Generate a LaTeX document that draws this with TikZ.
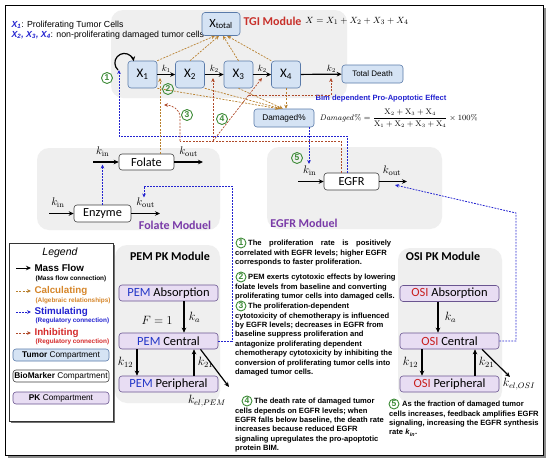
\documentclass[tikz,border=0pt]{standalone}
\usepackage{amsmath}
\usepackage[no-math]{fontspec}
\setmainfont{Liberation Sans}
\newfontfamily\calibri{Carlito}
\usetikzlibrary{arrows.meta,positioning,calc}

\definecolor{tumfill}{HTML}{D5E3F4}
\definecolor{tumdraw}{HTML}{5A7BAA}
\definecolor{pkfill}{HTML}{E8DDF3}
\definecolor{pkdraw}{HTML}{6A5590}
\definecolor{modgray}{HTML}{EFEFEF}
\definecolor{calccol}{HTML}{B8802E}
\definecolor{inhibcol}{HTML}{B04A2A}
\definecolor{stimcol}{HTML}{2323D0}
\definecolor{numgreen}{HTML}{3D8B37}
\definecolor{titlered}{HTML}{C8302A}
\definecolor{titlepurple}{HTML}{7A3BA8}
\definecolor{pemblue}{HTML}{2437C8}
\definecolor{osired}{HTML}{C81E1E}
\definecolor{calctext}{HTML}{D6862A}
\definecolor{inhibtext}{HTML}{D52B2B}

\newcommand{\fsz}[1]{\fontsize{#1}{#1}\selectfont}

\tikzset{
  module/.style={fill=modgray, rounded corners=12pt},
  tumor/.style={draw=tumdraw, fill=tumfill, rounded corners=3pt, line width=0.6pt, inner sep=0pt},
  bio/.style={draw=black!75, fill=white, rounded corners=3pt, line width=0.6pt, inner sep=0pt},
  pk/.style={draw=pkdraw, fill=pkfill, rounded corners=3pt, line width=0.6pt, inner sep=0pt,
    minimum width=99pt, minimum height=16pt, font=\calibri\fsz{12.5}},
  flowline/.style={line width=1.2pt, -{Stealth[length=5pt,width=4.5pt]}},
  calcline/.style={calccol, line width=0.7pt, dash pattern=on 2pt off 1.3pt, -{Stealth[length=4pt,width=3.6pt]}},
  inhibline/.style={inhibcol, line width=0.7pt, dash pattern=on 2pt off 1.3pt, -{Stealth[length=4pt,width=3.6pt]}},
  stimline/.style={stimcol, line width=0.8pt, dash pattern=on 1.8pt off 1.2pt, -{Stealth[length=4pt,width=3.6pt]}},
  num/.style={circle, draw=numgreen, line width=0.9pt, text=numgreen, font=\bfseries\fsz{8.5},
    inner sep=0pt, minimum size=11pt},
  ttl/.style={font=\calibri\bfseries\fsz{12}},
  kl/.style={font=\fsz{9}, inner sep=1pt},
  note/.style={anchor=north west, align=left, inner sep=0pt, font=\bfseries\fontsize{7.6}{9.4}\selectfont},
}

\begin{document}
\begin{tikzpicture}[x=1pt, y=1pt]
  \useasboundingbox (0,0) rectangle (550,-461);
  % ---------------------------------------------------------------- frame
  \fill[black!45] (8,-8) rectangle (545.5,-457.5);
  \draw[fill=white, line width=0.7pt] (5,-5) rectangle (543,-455);
  % module backgrounds
  \path[module] (111,-10) rectangle (347,-98);
  \path[module] (37,-148) rectangle (220,-230);
  \path[module] (267,-147) rectangle (442,-229);
  \path[module] (115,-245) rectangle (220,-403);
  \path[module] (398,-248) rectangle (502,-403);

  % ---------------------------------------------------------------- header
  \node[anchor=west, font=\fsz{8.8}] (hdr1) at (8,-25)
    {\textcolor{stimcol}{\textbf{\textit{X\textsubscript{1}}}}: Proliferating Tumor Cells};
  \node[anchor=west, font=\fsz{8.8}] (hdr2) at (8,-35)
    {\textcolor{stimcol}{\textbf{\textit{X\textsubscript{2}, X\textsubscript{3}, X\textsubscript{4}}}}: non-proliferating damaged tumor cells};

  % ---------------------------------------------------------------- TGI module
  \node[tumor, minimum width=38pt, minimum height=23pt, font=\calibri\fsz{12.5}] (Xtot) at (221,-24) {X\textsubscript{total}};
  \node[ttl, text=titlered] (tgi) at (272.5,-21) {TGI Module};
  \node[font=\fsz{9.5}] (xeq) at (357,-21) {$X = X_1 + X_2 + X_3 + X_4$};
  \foreach \i/\x in {1/142.5, 2/190, 3/238.5, 4/286} {
    \node[tumor, minimum width=29pt, minimum height=27pt, font=\calibri\fsz{13}] (X\i) at (\x,-74.5) {X\textsubscript{\i}};
  }
  \node[tumor, minimum width=61pt, minimum height=18pt, font=\fsz{8}] (death) at (372.5,-74) {Total Death};
  \node[tumor, minimum width=60pt, minimum height=18pt, font=\fsz{8.3}] (dam) at (284,-118) {Damaged\%};
  \node[font=\bfseries\fsz{7.6}, text=stimcol] (bim) at (381,-99) {Bim dependent Pro-Apoptotic Effect};
  \node[anchor=west, font=\fsz{7.8}] (dameq) at (316,-118)
    {$\mathit{Damaged}\% = \dfrac{\mathrm{X}_2 + \mathrm{X}_3 + \mathrm{X}_4}{\mathrm{X}_1 + \mathrm{X}_2 + \mathrm{X}_3 + \mathrm{X}_4}\times 100\%$};

  \draw[flowline] (X1) -- node[above, kl] {$k_1$} (X2);
  \draw[flowline] (X2) -- node[above, kl] {$k_2$} (X3);
  \draw[flowline] (X3) -- node[above, kl] {$k_2$} (X4);
  \draw[flowline] (X4) -- node[pos=0.75, above, kl] {$k_2$} (death);
  % self renewal of X1
  \coordinate (lp) at (118,-70);
  \draw[flowline] (lp) arc[start angle=228, end angle=10, radius=9.5];

  % X compartments summed into Xtotal and Damaged%
  \draw[calcline] (X1.north east) -- ([xshift=-6pt]Xtot.south);
  \draw[calcline] (X2.north) -- ([xshift=-2pt]Xtot.south);
  \draw[calcline] (X3.north) -- ([xshift=2pt]Xtot.south);
  \draw[calcline] (X4.north west) -- ([xshift=6pt]Xtot.south);
  \draw[calcline] (X1.south east) -- ([xshift=-5pt]dam.north);
  \draw[calcline] (X2.south east) -- ([xshift=-3pt]dam.north);
  \draw[calcline] (X3.south) -- ([xshift=-1pt]dam.north);
  \draw[calcline] (X4.south) -- (X4.south |- dam.north);

  % ---------------------------------------------------------------- folate module
  \node[bio, minimum width=55pt, minimum height=16pt, font=\calibri\fsz{12.3}] (fol) at (146.5,-162) {Folate};
  \node[bio, minimum width=57pt, minimum height=17pt, font=\calibri\fsz{12.3}] (enz) at (102.5,-213.5) {Enzyme};
  \coordinate (folin) at (93,-162);
  \coordinate (folout) at (203,-162);
  \coordinate (enzin) at (49,-213.5);
  \coordinate (enzout) at (160,-213.5);
  \draw[flowline] (folin) -- node[pos=0.38, above=2pt, font=\fsz{11}] {$k_{\mathrm{in}}$} (fol);
  \draw[flowline] (fol) -- node[pos=0.5, above=2pt, font=\fsz{11}] {$k_{\mathrm{out}}$} (folout);
  \draw[flowline] (enzin) -- node[pos=0.36, above=2pt, font=\fsz{11}] {$k_{\mathrm{in}}$} (enz);
  \draw[flowline] (enz) -- node[pos=0.5, above=2pt, font=\fsz{11}] {$k_{\mathrm{out}}$} (enzout);
  \node[ttl, text=titlepurple] (folttl) at (175,-225) {Folate Moduel};

  % ---------------------------------------------------------------- EGFR module
  \node[bio, minimum width=55pt, minimum height=17pt, font=\calibri\fsz{12.3}] (egfr) at (351.5,-181.5) {EGFR};
  \coordinate (egin) at (298,-181.5);
  \coordinate (egout) at (407,-181.5);
  \draw[flowline] (egin) -- node[pos=0.46, above=2pt, font=\fsz{11}] {$k_{\mathrm{in}}$} (egfr);
  \draw[flowline] (egfr) -- node[pos=0.46, above=2pt, font=\fsz{11}] {$k_{\mathrm{out}}$} (egout);
  \node[ttl, text=titlepurple] (egttl) at (304,-223) {EGFR Moduel};

  % ---------------------------------------------------------------- PEM PK
  \node[ttl] (pemttl) at (170,-256) {PEM PK Module};
  \node[pk] (pema) at (168.5,-293) {\textcolor{pemblue}{PEM} Absorption};
  \node[pk] (pemc) at (168.5,-341) {\textcolor{pemblue}{PEM} Central};
  \node[pk] (pemp) at (168.5,-384) {\textcolor{pemblue}{PEM} Peripheral};
  \node[font=\fsz{12}] (pemF) at (157,-320) {$F = 1$};
  \draw[flowline] ([xshift=15.5pt]pema.south) -- node[right=1pt, font=\fsz{12}] {$k_a$} ([xshift=15.5pt]pemc.north);
  \draw[flowline] ([xshift=-31.5pt]pemc.south) -- node[left=0pt, font=\fsz{12}] {$k_{12}$} ([xshift=-31.5pt]pemp.north);
  \draw[flowline] ([xshift=25.5pt]pemp.north) -- node[right=0pt, font=\fsz{12}] {$k_{21}$} ([xshift=25.5pt]pemc.south);
  \coordinate (pemel) at (229,-387);
  \draw[flowline] ([xshift=32pt]pemc.south) -- (pemel);
  \node[font=\fsz{12}] (pemkel) at (207,-401) {$k_{el,PEM}$};

  % ---------------------------------------------------------------- OSI PK
  \node[ttl] (osittl) at (443,-256) {OSI PK Module};
  \node[pk] (osia) at (449.5,-293.5) {\textcolor{osired}{OSI} Absorption};
  \node[pk] (osic) at (449.5,-341) {\textcolor{osired}{OSI} Central};
  \node[pk] (osip) at (449.5,-384) {\textcolor{osired}{OSI} Peripheral};
  \draw[flowline] ([xshift=-11.5pt]osia.south) -- node[right=3pt, font=\fsz{12}] {$k_a$} ([xshift=-11.5pt]osic.north);
  \draw[flowline] ([xshift=-27.5pt]osic.south) -- node[left=0pt, font=\fsz{12}] {$k_{12}$} ([xshift=-27.5pt]osip.north);
  \draw[flowline] ([xshift=25.5pt]osip.north) -- node[right=0pt, font=\fsz{12}] {$k_{21}$} ([xshift=25.5pt]osic.south);
  \coordinate (osiel) at (510,-377);
  \draw[flowline] ([xshift=32.5pt]osic.south) -- (osiel);
  \node[font=\fsz{12}] (osikel) at (519,-384) {$k_{el,OSI}$};

  % ---------------------------------------------------------------- regulation
  \coordinate (t12) at (160,-78);
  \coordinate (t23) at (213,-78);
  \coordinate (t34) at (262,-78);
  \coordinate (t4d) at (331,-78);
  \coordinate (b1) at (119,-136);
  \coordinate (r1) at (180,-141);
  \coordinate (r4) at (213,-141);
  \coordinate (r3) at (164,-105);
  \coordinate (r5) at ($(r4)!0.73!(t34)$);
  % (1) EGFR drives proliferation
  \draw[stimline] ([xshift=-4.5pt]egfr.north) |- (b1) -- (b1 |- lp);
  % (2) folate
  \draw[calcline] ([xshift=13.5pt]fol.north) -- (t12);
  % (3),(4) EGFR dependence
  \draw[inhibcol, line width=0.7pt, dash pattern=on 2pt off 1.3pt] ([xshift=-10.5pt]egfr.north) |- (r1);
  \draw[inhibline] (r1) -- ++(0,24) to[out=90, in=0] (r3);
  \draw[inhibline] (r4) -- (t23);
  \draw[inhibline] (r4) -- (t34);
  \draw[inhibline] (r5) -| (t4d);
  % (5) feedback to EGFR synthesis
  \coordinate (tegin) at (309,-164);
  \draw[stimline] ([xshift=25pt]dam.south) -- (tegin);
  % enzyme / drugs
  \coordinate (tfin) at (102.5,-164.5);
  \draw[stimline] (enz.north) -- (tfin);
  \coordinate (b2) at (232,-186);
  \coordinate (tenz) at (144,-197.5);
  \draw[stimline] (pemc.east) -| (b2) -| (tenz);
  \coordinate (b3) at (516,-213);
  \coordinate (tegout) at (395,-185);
  \draw[stimline] (osic.east) -| (b3) -- (tegout);

  \node[num] (n1) at (107,-78) {1};
  \node[num] (n2) at (168,-89) {2};
  \node[num] (n3) at (187,-115) {3};
  \node[num] (n4) at (222,-119) {4};
  \node[num] (n5) at (297,-158) {5};

  % ---------------------------------------------------------------- legend
  \fill[black!55] (11,-245) rectangle (115,-423);
  \draw[draw=black!80, fill=white, line width=0.6pt] (9,-243) rectangle (113,-421);
  \node[font=\itshape\fsz{10.5}] (legttl) at (60,-253) {Legend};
  \node[anchor=west, font=\bfseries\fsz{9.8}] (lgflow) at (31,-268) {Mass Flow};
  \node[anchor=west, font=\bfseries\fsz{6.4}] (lgflows) at (32,-279) {(Mass flow connection)};
  \node[anchor=west, font=\bfseries\fsz{9.8}, text=calctext] (lgcalc) at (31,-291) {Calculating};
  \node[anchor=west, font=\bfseries\fsz{6.4}, text=calctext] (lgcalcs) at (32,-301) {(Algebraic relationships)};
  \node[anchor=west, font=\bfseries\fsz{9.8}, text=stimcol] (lgstim) at (31,-312) {Stimulating};
  \node[anchor=west, font=\bfseries\fsz{6.4}, text=stimcol] (lgstims) at (32,-321) {(Regulatory connection)};
  \node[anchor=west, font=\bfseries\fsz{9.8}, text=inhibtext] (lginh) at (31,-333) {Inhibiting};
  \node[anchor=west, font=\bfseries\fsz{6.4}, text=inhibtext] (lginhs) at (32,-342) {(Regulatory connection)};
  \draw[flowline, line width=1pt] ([xshift=-15pt]lgflow.west) -- (lgflow.west);
  \draw[calcline, line width=0.9pt] ([xshift=-15pt]lgcalc.west) -- (lgcalc.west);
  \draw[stimline, line width=1pt] ([xshift=-15pt]lgstim.west) -- (lgstim.west);
  \draw[inhibline, line width=0.9pt] ([xshift=-15pt]lginh.west) -- (lginh.west);
  \node[tumor, minimum width=96pt, minimum height=12pt, font=\fsz{8.3}] (lgtum) at (61,-355) {\textbf{Tumor} Compartment};
  \node[bio, minimum width=96pt, minimum height=12pt, font=\fsz{8.3}] (lgbio) at (61,-376) {\textbf{BioMarker} Compartment};
  \node[pk, minimum width=96pt, minimum height=12pt, font=\fsz{8.3}] (lgpk) at (61,-398) {\textbf{PK} Compartment};

  % ---------------------------------------------------------------- notes
  \node[num, minimum size=10pt] (c1) at (241,-243) {1};
  \node[note] (txt1) at (235,-240) {\hspace*{13pt}\makebox[143pt][s]{The proliferation rate is positively}\\
    correlated with EGFR levels; higher EGFR\\corresponds to faster proliferation.};
  \node[num, minimum size=10pt] (c2) at (241,-277) {2};
  \node[note] (txt2) at (235,-274) {\hspace*{13pt}PEM exerts cytotoxic effects by lowering\\
    folate levels from baseline and converting\\proliferating tumor cells into damaged cells.};
  \node[num, minimum size=10pt] (c3) at (241,-306) {3};
  \node[note] (txt3) at (235,-303) {\hspace*{13pt}The proliferation-dependent\\
    cytotoxicity of chemotherapy is influenced\\by EGFR levels; decreases in EGFR from\\
    baseline suppress proliferation and\\antagonize proliferating dependent\\
    chemotherapy cytotoxicity by inhibiting the\\conversion of proliferating tumor cells into\\
    damaged tumor cells.};
  \node[num, minimum size=10pt] (c4) at (247,-401) {4};
  \node[note] (txt4) at (235,-398) {\hspace*{19pt}The death rate of damaged tumor\\
    cells depends on EGFR levels; when\\EGFR falls below baseline, the death rate\\
    increases because reduced EGFR\\signaling upregulates the pro-apoptotic\\protein BIM.};
  \node[num, minimum size=10pt] (c5) at (394,-404) {5};
  \node[note] (txt5) at (389,-401) {\hspace*{13pt}As the fraction of damaged tumor\\
    cells increases, feedback amplifies EGFR\\signaling, increasing the EGFR synthesis\\
    rate \textit{k}\textsubscript{\textit{in}}.};
\end{tikzpicture}
\end{document}
